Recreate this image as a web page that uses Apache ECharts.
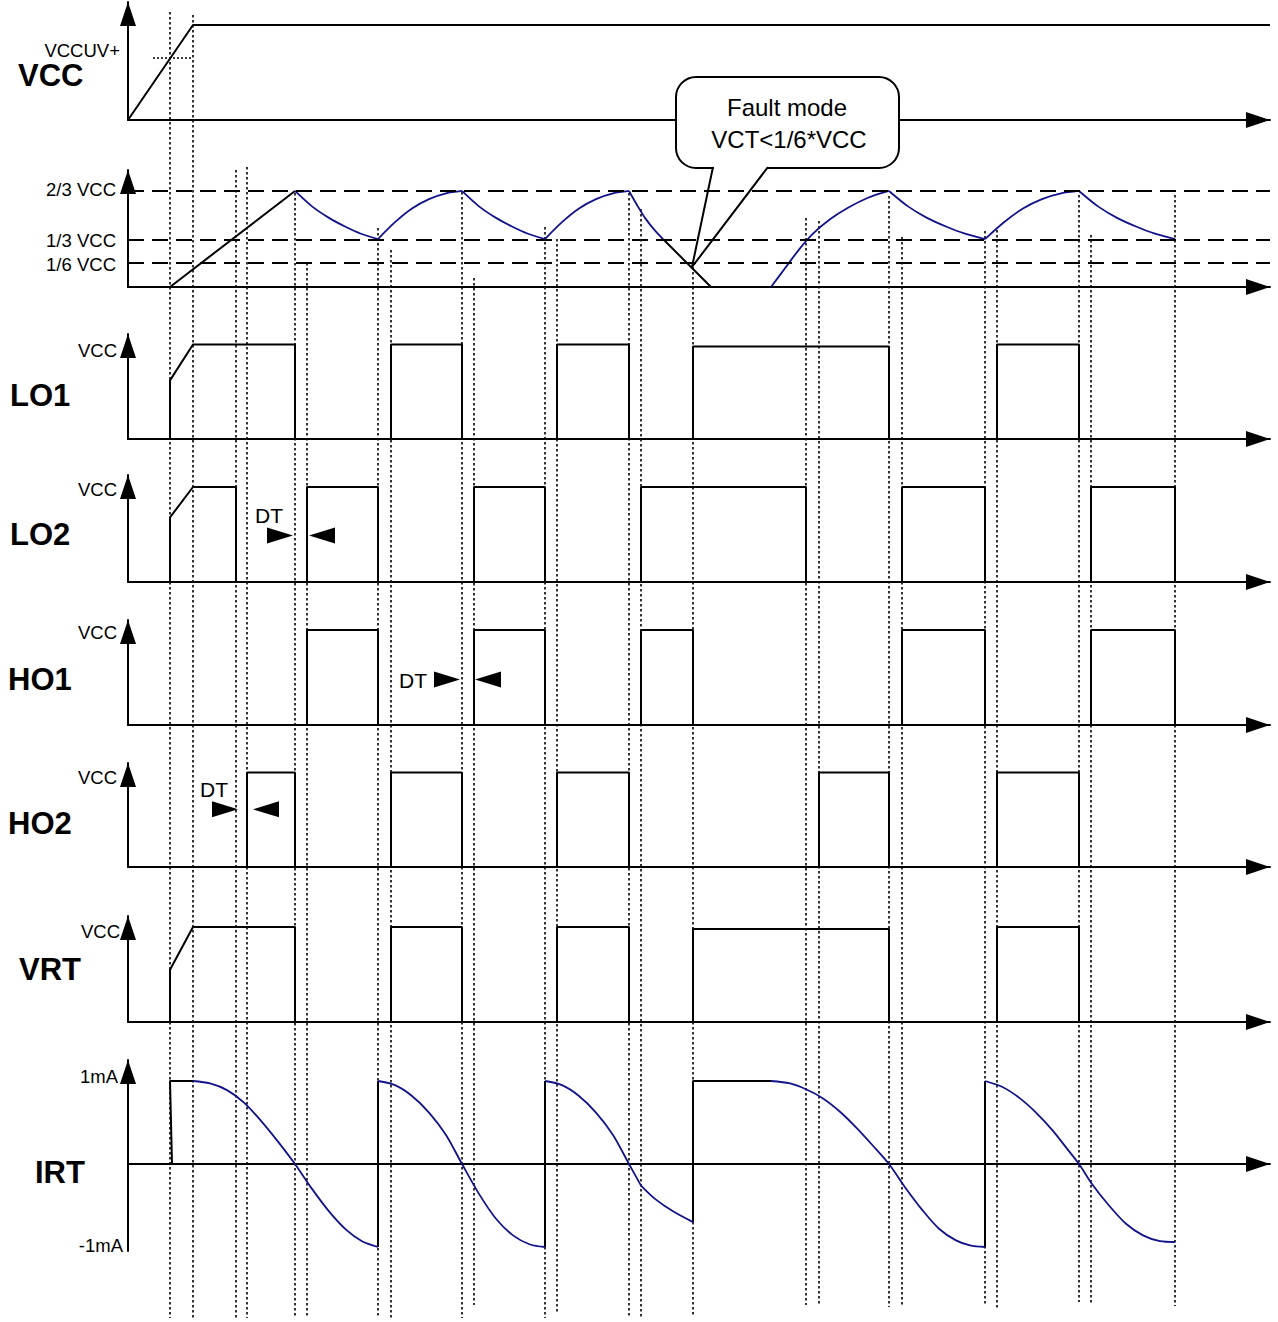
<!DOCTYPE html>
<html>
<head>
<meta charset="utf-8">
<title>Half-bridge timing diagram</title>
<script src="https://cdn.jsdelivr.net/npm/echarts@6/dist/echarts.min.js"></script>
<style>
  html, body { margin: 0; padding: 0; background: #fff; }
  #main { width: 1278px; height: 1322px; }
</style>
</head>
<body>
<div id="main"></div>
<script>
var FONT = '"Liberation Sans", Arial, sans-serif';
var NAVY = '#12128a';

// event instants on the time axis (axis runs 128 .. 1270)
var guideTimes   = [170, 193, 236, 247, 295, 307, 378, 391, 462, 474, 545, 557, 629, 641, 693, 806, 819, 889, 902, 985, 997, 1079, 1091, 1175];
var guideTops    = [12, 15, 170, 167, 193, 263, 228, 250, 192, 278, 227, 239, 193, 209, 267, 218, 221, 196, 237, 231, 230, 195, 235, 195];
var guideBottoms = [1318, 1318, 1318, 1318, 1318, 1318, 1318, 1318, 1318, 1305, 1318, 1312, 1318, 1318, 1316, 1305, 1305, 1307, 1305, 1306, 1308, 1302, 1303, 1306];

// VCC supply (units of VCC)
var vccWave = [[128, 0], [193, 1], [1270, 1]];
var vccUv = [[153, 0.653], [193, 0.653]];

// VCT timing capacitor (units of VCC)
var vctLevels = [2 / 3, 1 / 3, 1 / 6];
var vctLabels = ['2/3 VCC', '1/3 VCC', '1/6 VCC'];
var vctRamp = [[170, 0], [295, 0.667]];
var vctFault = [[663, 0.333], [711, 0]];
var vctCurves = [
  [[295, 0.667], [312, 0.56], [329, 0.48], [345, 0.42], [361, 0.37], [378, 0.333]],
  [[378, 0.333], [395, 0.45], [412, 0.545], [429, 0.61], [446, 0.65], [462, 0.667]],
  [[462, 0.667], [479, 0.56], [496, 0.48], [512, 0.42], [528, 0.37], [545, 0.333]],
  [[545, 0.333], [562, 0.45], [579, 0.545], [596, 0.61], [613, 0.65], [629, 0.667]],
  [[629, 0.667], [637, 0.57], [645, 0.48], [654, 0.4], [663, 0.333]],
  [[771, 0], [785, 0.13], [799, 0.26], [813, 0.37], [830, 0.47], [848, 0.55], [868, 0.62], [889, 0.667]],
  [[889, 0.667], [908, 0.56], [927, 0.48], [946, 0.42], [965, 0.37], [985, 0.333]],
  [[985, 0.333], [1004, 0.45], [1023, 0.545], [1042, 0.61], [1061, 0.65], [1079, 0.667]],
  [[1079, 0.667], [1098, 0.56], [1117, 0.48], [1136, 0.42], [1155, 0.37], [1175, 0.333]]
];

// gate outputs: startup edge, then [rise, fall, level]
var lo1Start = [[170, 0], [170, 0.62], [193, 1], [295, 1], [295, 0]];
var lo1Pulses = [[391, 462, 1], [557, 629, 1], [693, 889, 0.98], [997, 1079, 1]];
var lo2Start = [[170, 0], [170, 0.68], [193, 1], [236, 1], [236, 0]];
var lo2Pulses = [[307, 378, 1], [474, 545, 1], [641, 806, 1], [902, 985, 1], [1091, 1175, 1]];
var ho1Pulses = [[307, 378, 1], [474, 545, 1], [641, 693, 1], [902, 985, 1], [1091, 1175, 1]];
var ho2Pulses = [[247, 295, 1], [391, 462, 1], [557, 629, 1], [819, 889, 1], [997, 1079, 1]];
var vrtStart = [[170, 0], [170, 0.55], [193, 1], [295, 1], [295, 0]];
var vrtPulses = [[391, 462, 1], [557, 629, 1], [693, 889, 0.98], [997, 1079, 1]];

// dead time markers: [row, right-arrow centre, left-arrow centre, level]
var dtMarks = [[3, 280, 322, 0.49], [4, 447, 488, 0.48], [5, 225, 266, 0.61]];

// IRT current (mA)
var irtLabels = ['1mA', '-1mA'];
var irtLevels = [1, -1];
var irtSteps = [
  [[172, 0], [170, 1], [193, 1]],
  [[378, -1], [378, 1]],
  [[545, -1], [545, 1]],
  [[693, -0.7], [693, 1], [771, 1]],
  [[985, -1], [985, 1]]
];
var irtCurves = [
  [[193, 1], [210, 0.97], [227, 0.89], [244, 0.74], [261, 0.52], [278, 0.27], [295, 0], [312, -0.3], [329, -0.57], [346, -0.79], [362, -0.93], [378, -1]],
  [[378, 1], [395, 0.95], [412, 0.82], [429, 0.62], [446, 0.35], [462, 0], [479, -0.36], [496, -0.66], [513, -0.86], [530, -0.97], [545, -1]],
  [[545, 1], [562, 0.95], [579, 0.82], [596, 0.62], [613, 0.35], [629, 0], [641, -0.26]],
  [[641, -0.26], [655, -0.42], [673, -0.57], [693, -0.7]],
  [[771, 1], [790, 0.97], [806, 0.9], [823, 0.79], [840, 0.63], [857, 0.43], [873, 0.22], [889, 0], [905, -0.28], [922, -0.55], [939, -0.78], [956, -0.92], [970, -0.98], [985, -1]],
  [[985, 1], [1002, 0.93], [1019, 0.8], [1036, 0.62], [1053, 0.4], [1066, 0.2], [1079, 0], [1092, -0.24], [1109, -0.5], [1126, -0.72], [1143, -0.86], [1160, -0.93], [1175, -0.94]]
];

// layout of the eight strips (page pixels); shift = label offset from its level, pr = right padding
var rows = [
  { top: 2, base: 120, unit: 95, ticks: [0.653], labels: ['VCCUV+'], shift: [-7], pr: [0], margin: 8 },
  { top: 170, base: 287, unit: 144, ticks: vctLevels, labels: vctLabels, shift: [-2, 1, 1], pr: [0, 0, 0], margin: 12 },
  { top: 334, base: 439, unit: 94.5, ticks: [1], labels: ['VCC'], shift: [6], pr: [0], margin: 11 },
  { top: 475, base: 582, unit: 95, ticks: [1], labels: ['VCC'], shift: [2], pr: [0], margin: 11 },
  { top: 620, base: 725, unit: 95, ticks: [1], labels: ['VCC'], shift: [2], pr: [0], margin: 11 },
  { top: 763, base: 867, unit: 94.5, ticks: [1], labels: ['VCC'], shift: [5], pr: [0], margin: 11 },
  { top: 916, base: 1022, unit: 95, ticks: [1], labels: ['VCC'], shift: [4], pr: [0], margin: 8 },
  { top: 1060, base: 1164, unit: 83, bottom: 1251, ticks: irtLevels, labels: irtLabels, shift: [-5, -2], pr: [5, 0], margin: 5 }
];
var rowTitles = [['VCC', 18, 75], ['LO1', 10, 395], ['LO2', 10, 534], ['HO1', 8, 679], ['HO2', 8, 823], ['VRT', 19, 969], ['IRT', 35, 1172]];

function pulses(list) {
  var pts = [];
  list.forEach(function (p) {
    pts.push([p[0], 0], [p[0], p[2]], [p[1], p[2]], [p[1], 0]);
  });
  return pts;
}

var grids = [], xAxes = [], yAxes = [], series = [];
rows.forEach(function (r, i) {
  var bottom = r.bottom || r.base;
  var rich = {};
  r.ticks.forEach(function (v, k) {
    rich['t' + k] = { fontSize: 18.5, fontFamily: FONT, color: '#000', lineHeight: 18, padding: [0, r.pr[k], 0, 0] };
    rich['g' + k] = { fontSize: 1, lineHeight: Math.max(1, 2 * Math.abs(r.shift[k])), height: Math.max(1, 2 * Math.abs(r.shift[k])) };
  });
  grids.push({ left: 128, right: 8, top: r.top, height: bottom - r.top });
  xAxes.push({
    gridIndex: i, type: 'value', min: 128, max: 1270,
    axisLine: { onZero: true, lineStyle: { color: '#000', width: 2 }, symbol: ['none', 'triangle'], symbolSize: [16, 24], symbolOffset: [0, -12] },
    axisTick: { show: false }, axisLabel: { show: false }, splitLine: { show: false }
  });
  yAxes.push({
    gridIndex: i, type: 'value',
    min: -(bottom - r.base) / r.unit, max: (r.base - r.top) / r.unit,
    axisLine: { onZero: false, lineStyle: { color: '#000', width: 2 }, symbol: ['none', 'triangle'], symbolSize: [16, 24], symbolOffset: [0, -12] },
    axisTick: { show: false }, splitLine: { show: false },
    axisLabel: {
      customValues: r.ticks, margin: r.margin, color: '#000', fontFamily: FONT, fontSize: 18.5,
      rich: rich,
      formatter: function (v) {
        for (var k = 0; k < r.ticks.length; k++) {
          if (Math.abs(r.ticks[k] - v) < 1e-6) {
            var t = '{t' + k + '|' + r.labels[k] + '}';
            var g = '{g' + k + '| }';
            if (r.shift[k] > 0) return g + '\n' + t;
            if (r.shift[k] < 0) return t + '\n' + g;
            return t;
          }
        }
        return '';
      }
    }
  });
});
// overlay strip for the dotted event guides
grids.push({ left: 128, right: 8, top: 0, bottom: 0 });
xAxes.push({ gridIndex: 8, type: 'value', min: 128, max: 1270, show: false });
yAxes.push({ gridIndex: 8, type: 'value', min: 0, max: 1322, inverse: true, show: false });

function wave(i, data, color, smooth, width) {
  series.push({
    type: 'line', xAxisIndex: i, yAxisIndex: i, data: data,
    showSymbol: false, symbol: 'none', clip: false, silent: true, z: 3,
    smooth: smooth || false,
    lineStyle: { color: color || '#000', width: width || 2 }
  });
}

series.push({
  type: 'lines', coordinateSystem: 'cartesian2d', xAxisIndex: 8, yAxisIndex: 8,
  silent: true, z: 1,
  lineStyle: { color: '#000', width: 1.6, type: [2.5, 2.5], opacity: 1 },
  data: guideTimes.map(function (t, k) {
    return { coords: [[t, guideTops[k]], [t, guideBottoms[k]]] };
  })
});

// VCC
wave(0, vccWave);
series.push({
  type: 'line', xAxisIndex: 0, yAxisIndex: 0, data: vccUv, showSymbol: false, symbol: 'none', silent: true,
  lineStyle: { color: '#000', width: 1.4, type: [2, 2] }
});

// VCT
series.push({
  type: 'line', xAxisIndex: 1, yAxisIndex: 1, data: vctRamp, showSymbol: false, symbol: 'none', silent: true, z: 3,
  lineStyle: { color: '#000', width: 2 },
  markLine: {
    silent: true, symbol: ['none', 'none'], label: { show: false },
    lineStyle: { color: '#000', width: 1.8, type: [16, 8] },
    data: vctLevels.map(function (v) { return { yAxis: v }; })
  }
});
wave(1, vctFault);
vctCurves.forEach(function (c) { wave(1, c, NAVY, 0.3, 1.8); });

// gate outputs
wave(2, lo1Start.concat(pulses(lo1Pulses)));
wave(3, lo2Start.concat(pulses(lo2Pulses)));
wave(4, pulses(ho1Pulses));
wave(5, pulses(ho2Pulses));
wave(6, vrtStart.concat(pulses(vrtPulses)));

// IRT
irtSteps.forEach(function (s) { wave(7, s); });
irtCurves.forEach(function (c) { wave(7, c, NAVY, 0.3, 1.8); });

// dead time arrows
dtMarks.forEach(function (d) {
  series.push({
    type: 'scatter', xAxisIndex: d[0], yAxisIndex: d[0], silent: true, z: 4,
    symbol: 'triangle', symbolSize: [16, 26], itemStyle: { color: '#000', opacity: 1 },
    data: [
      { value: [d[1], d[3]], symbolRotate: -90 },
      { value: [d[2], d[3]], symbolRotate: 90 }
    ]
  });
});

var graphics = [];
rowTitles.forEach(function (t) {
  graphics.push({
    type: 'text', x: t[1], y: t[2], z: 50,
    style: { text: t[0], fill: '#000', font: 'bold 31px ' + FONT, lineHeight: 24, verticalAlign: 'middle', textVerticalAlign: 'middle' }
  });
});
[['DT', 269, 515], ['DT', 413, 680], ['DT', 214, 789]].forEach(function (t) {
  graphics.push({
    type: 'text', x: t[1], y: t[2], z: 50,
    style: { text: t[0], fill: '#000', font: '21px ' + FONT, align: 'center', textAlign: 'center', verticalAlign: 'middle', textVerticalAlign: 'middle' }
  });
});
// fault mode callout
graphics.push(
  { type: 'rect', z: 100, shape: { x: 676, y: 77, width: 223, height: 91, r: 20 }, style: { fill: '#fff', stroke: '#000', lineWidth: 2 } },
  { type: 'line', z: 101, shape: { x1: 714, y1: 168, x2: 767, y2: 168 }, style: { stroke: '#fff', lineWidth: 4 } },
  { type: 'polyline', z: 102, shape: { points: [[713, 167], [692, 267], [768, 167]] }, style: { stroke: '#000', lineWidth: 2, fill: null } },
  { type: 'text', x: 787, y: 107, z: 103, style: { text: 'Fault mode', fill: '#000', font: '24px ' + FONT, align: 'center', textAlign: 'center', verticalAlign: 'middle', textVerticalAlign: 'middle' } },
  { type: 'text', x: 789, y: 139, z: 103, style: { text: 'VCT<1/6*VCC', fill: '#000', font: '24px ' + FONT, align: 'center', textAlign: 'center', verticalAlign: 'middle', textVerticalAlign: 'middle' } }
);

var chart = echarts.init(document.getElementById('main'), null, { renderer: 'svg' });
chart.setOption({
  animation: false,
  backgroundColor: '#fff',
  grid: grids,
  xAxis: xAxes,
  yAxis: yAxes,
  series: series,
  graphic: graphics
});
</script>
</body>
</html>
